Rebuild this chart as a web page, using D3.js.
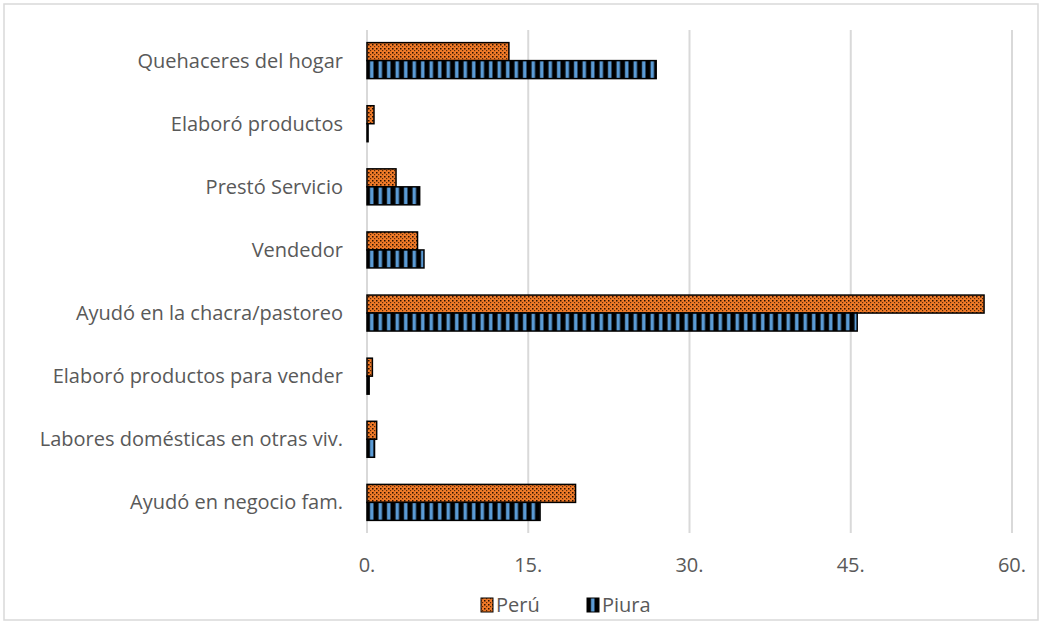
<!DOCTYPE html>
<html>
<head>
<meta charset="utf-8">
<script src="https://cdn.jsdelivr.net/npm/d3@7"></script>
<style>
  body { margin: 0; background: #fff; }
  text { font-family: "Open Sans", "Liberation Sans", sans-serif; fill: #595959; }
</style>
</head>
<body>
<div id="chart"></div>
<script>
// categories top to bottom
var categories = ["Quehaceres del hogar", "Elaboró productos", "Prestó Servicio", "Vendedor",
  "Ayudó en la chacra/pastoreo", "Elaboró productos para vender",
  "Labores domésticas en otras viv.", "Ayudó en negocio fam."];
var peru  = [13.2, 0.65, 2.7, 4.7, 57.4, 0.5, 0.9, 19.4];
var piura = [26.9, 0.1, 4.9, 5.3, 45.6, 0.2, 0.7, 16.1];
var seriesNames = ["Perú", "Piura"];
var tickValues = [0, 15, 30, 45, 60];

var width = 1042, height = 623;
var plotLeft = 367, plotRight = 1012, plotTop = 30, plotBottom = 533;

var svg = d3.select("#chart").append("svg")
  .attr("width", width)
  .attr("height", height);

// patterns
var defs = svg.append("defs");
var dots = defs.append("pattern")
  .attr("id", "dots")
  .attr("patternUnits", "userSpaceOnUse")
  .attr("width", 4).attr("height", 4);
dots.append("rect").attr("width", 4).attr("height", 4).attr("fill", "#F07A28");
dots.append("rect").attr("x", 0).attr("y", 0).attr("width", 1.5).attr("height", 1.5).attr("fill", "#2a1000");
dots.append("rect").attr("x", 2).attr("y", 2).attr("width", 1.2).attr("height", 1.2).attr("fill", "#5a2a08");

var stripes = defs.append("pattern")
  .attr("id", "stripes")
  .attr("patternUnits", "userSpaceOnUse")
  .attr("width", 8.5).attr("height", 8);
stripes.append("rect").attr("width", 8.5).attr("height", 8).attr("fill", "#000");
stripes.append("rect").attr("x", 4.5).attr("width", 3.5).attr("height", 8).attr("fill", "#5B9BD5");

// outer frame
svg.append("rect")
  .attr("x", 4).attr("y", 4)
  .attr("width", width - 8).attr("height", height - 7)
  .attr("fill", "none")
  .attr("stroke", "#d9d9d9")
  .attr("stroke-width", 1.5);

var x = d3.scaleLinear().domain([0, 60]).range([plotLeft, plotRight]);
var y = d3.scaleBand().domain(categories).range([plotTop, plotBottom]).paddingInner(0.43).paddingOuter(0.2);
var inner = d3.scaleBand().domain(seriesNames).range([0, y.bandwidth()]);

// gridlines
svg.append("g").selectAll("line")
  .data(tickValues)
  .enter().append("line")
  .attr("x1", function(d) { return x(d); })
  .attr("x2", function(d) { return x(d); })
  .attr("y1", plotTop)
  .attr("y2", plotBottom)
  .attr("stroke", "#d9d9d9")
  .attr("stroke-width", 2);

// x tick labels
svg.append("g").selectAll("text")
  .data(tickValues)
  .enter().append("text")
  .attr("x", function(d) { return x(d); })
  .attr("y", 572)
  .attr("text-anchor", "middle")
  .attr("font-size", 20)
  .text(function(d) { return d + "."; });

// category labels
svg.append("g").selectAll("text")
  .data(categories)
  .enter().append("text")
  .attr("x", 343)
  .attr("y", function(d) { return y(d) + y.bandwidth() / 2; })
  .attr("dy", "0.35em")
  .attr("text-anchor", "end")
  .attr("font-size", 20)
  .text(function(d) { return d; });

// bars
var series = [
  { name: "Perú", values: peru, fill: "url(#dots)" },
  { name: "Piura", values: piura, fill: "url(#stripes)" }
];
series.forEach(function(s) {
  svg.append("g").selectAll("rect")
    .data(s.values)
    .enter().append("rect")
    .attr("x", x(0))
    .attr("y", function(d, i) { return y(categories[i]) + inner(s.name); })
    .attr("width", function(d) { return x(d) - x(0); })
    .attr("height", inner.bandwidth())
    .attr("fill", s.fill)
    .attr("stroke", "#000")
    .attr("stroke-width", 1.5);
});

// legend
var legendPos = [{ x: 481, name: "Perú", fill: "url(#dots)" }, { x: 587, name: "Piura", fill: "url(#stripes)" }];
var lg = svg.append("g").selectAll("g")
  .data(legendPos)
  .enter().append("g");
lg.append("rect")
  .attr("x", function(d) { return d.x; })
  .attr("y", 598)
  .attr("width", 12).attr("height", 14)
  .attr("fill", function(d) { return d.fill; })
  .attr("stroke", "#000");
lg.append("text")
  .attr("x", function(d) { return d.x + 15; })
  .attr("y", 612)
  .attr("font-size", 20)
  .text(function(d) { return d.name; });
</script>
</body>
</html>
